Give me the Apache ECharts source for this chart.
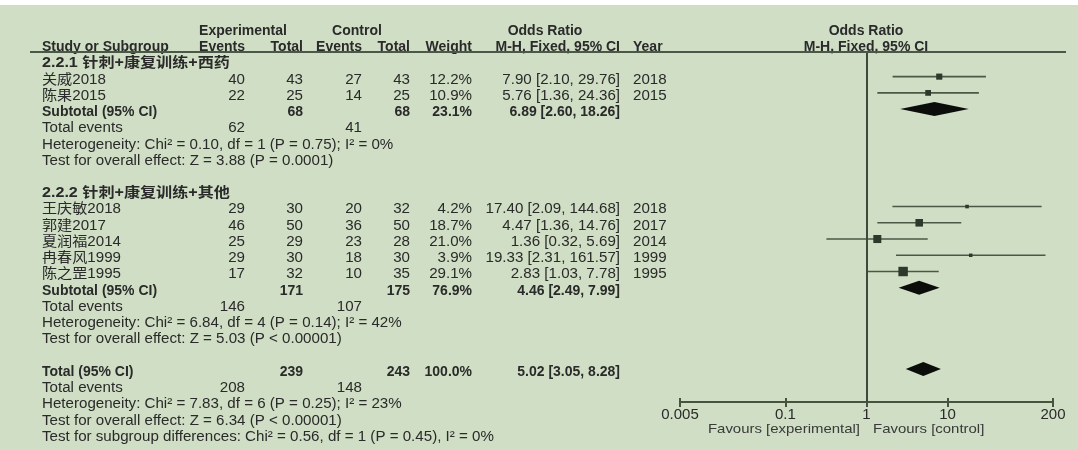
<!DOCTYPE html>
<html>
<head>
<meta charset="utf-8">
<title>Forest plot: 针刺+康复训练</title>
<script src="https://cdn.jsdelivr.net/npm/echarts@6/dist/echarts.min.js"></script>
<style>
  html, body { margin: 0; padding: 0; background: #ffffff; }
  #chart { width: 1078px; height: 450px; }
</style>
</head>
<body>
<div id="chart"></div>
<script>
// ---- Study-level data ----
const groupNames  = ['2.2.1 针刺+康复训练+西药', '2.2.2 针刺+康复训练+其他'];
const studyNames  = ['关威2018', '陈果2015', '王庆敏2018', '郭建2017', '夏润福2014', '冉春风1999', '陈之罡1995'];
const studyGroup  = [0, 0, 1, 1, 1, 1, 1];
const expEvents   = [40, 22, 29, 46, 25, 29, 17];
const expTotal    = [43, 25, 30, 50, 29, 30, 32];
const ctrlEvents  = [27, 14, 20, 36, 23, 18, 10];
const ctrlTotal   = [43, 25, 32, 50, 28, 30, 35];
const weights     = [12.2, 10.9, 4.2, 18.7, 21.0, 3.9, 29.1];
const oddsRatio   = [7.90, 5.76, 17.40, 4.47, 1.36, 19.33, 2.83];
const ciLow       = [2.10, 1.36, 2.09, 1.36, 0.32, 2.31, 1.03];
const ciHigh      = [29.76, 24.36, 144.68, 14.76, 5.69, 161.57, 7.78];
const years       = [2018, 2015, 2018, 2017, 2014, 1999, 1995];

// ---- Pooled estimates: subgroup 1, subgroup 2, overall ----
const pooledLabels    = ['Subtotal (95% CI)', 'Subtotal (95% CI)', 'Total (95% CI)'];
const pooledExpTotal  = [68, 171, 239];
const pooledCtrlTotal = [68, 175, 243];
const pooledWeight    = [23.1, 76.9, 100.0];
const pooledOR        = [6.89, 4.46, 5.02];
const pooledLow       = [2.60, 2.49, 3.05];
const pooledHigh      = [18.26, 7.99, 8.28];
const pooledExpEvents = [62, 146, 208];
const pooledCtrlEvents = [41, 107, 148];
const heterogeneity = [
  'Heterogeneity: Chi² = 0.10, df = 1 (P = 0.75); I² = 0%',
  'Heterogeneity: Chi² = 6.84, df = 4 (P = 0.14); I² = 42%',
  'Heterogeneity: Chi² = 7.83, df = 6 (P = 0.25); I² = 23%'
];
const overallEffect = [
  'Test for overall effect: Z = 3.88 (P = 0.0001)',
  'Test for overall effect: Z = 5.03 (P < 0.00001)',
  'Test for overall effect: Z = 6.34 (P < 0.00001)'
];
const subgroupTest = 'Test for subgroup differences: Chi² = 0.56, df = 1 (P = 0.45), I² = 0%';

// ---- Odds-ratio axis ----
const tickValues = [0.005, 0.1, 1, 10, 200];
const tickLabels = ['0.005', '0.1', '1', '10', '200'];
const favourLeft  = 'Favours [experimental]';
const favourRight = 'Favours [control]';

// ---- Layout ----
const W = 1078, H = 450;
const ROW_Y0 = 31, ROW_H = 16.24;          // centre of row 0 and row pitch, px
const rowMin = -ROW_Y0 / ROW_H, rowMax = (H - ROW_Y0) / ROW_H;
const PLOT_LEFT = 680, PLOT_RIGHT = 1053, PLOT_TOP = 52, PLOT_BOTTOM = 402;
const MARK_SHIFT = -0.19;                  // marks sit slightly above the text centre
const COL = { study: 42, expEv: 245, expTot: 303, ctrlEv: 362, ctrlTot: 410, weight: 472, or: 620, year: 633, plotMid: 866 };
const FONT = '"Liberation Sans", Arial, "Noto Sans CJK SC", sans-serif';
const TEXT = '#2a2a2a';
const LINE = '#46533f';
const WIDE = 1.08;                         // regular-weight text is set slightly wide

const lg = Math.log10;
const fmt2 = v => v.toFixed(2);
const ciText = (o, l, h) => `${fmt2(o)} [${fmt2(l)}, ${fmt2(h)}]`;

// ---- Build table cells and mark rows ----
const cells = [];
function cell(x, row, text, align, opt) {
  opt = opt || {};
  const bold = !!opt.bold;
  cells.push({
    x, row, text: String(text), align, bold,
    size: opt.size || 14, color: opt.color || TEXT,
    sx: opt.sx || (bold ? 1 : WIDE)
  });
}

// header
cell(243, 0, 'Experimental', 'center', { bold: true });
cell(357, 0, 'Control', 'center', { bold: true });
cell(545, 0, 'Odds Ratio', 'center', { bold: true });
cell(COL.plotMid, 0, 'Odds Ratio', 'center', { bold: true });
cell(COL.study, 1, 'Study or Subgroup', 'left', { bold: true });
cell(COL.expEv, 1, 'Events', 'right', { bold: true });
cell(COL.expTot, 1, 'Total', 'right', { bold: true });
cell(COL.ctrlEv, 1, 'Events', 'right', { bold: true });
cell(COL.ctrlTot, 1, 'Total', 'right', { bold: true });
cell(COL.weight, 1, 'Weight', 'right', { bold: true });
cell(COL.or, 1, 'M-H, Fixed, 95% CI', 'right', { bold: true });
cell(COL.year, 1, 'Year', 'left', { bold: true });
cell(COL.plotMid, 1, 'M-H, Fixed, 95% CI', 'center', { bold: true });

const studyMarks = [];
const pooledMarks = [];

function pooledBlock(k, row) {
  cell(COL.study, row, pooledLabels[k], 'left', { bold: true });
  cell(COL.expTot, row, pooledExpTotal[k], 'right', { bold: true });
  cell(COL.ctrlTot, row, pooledCtrlTotal[k], 'right', { bold: true });
  cell(COL.weight, row, pooledWeight[k].toFixed(1) + '%', 'right', { bold: true });
  cell(COL.or, row, ciText(pooledOR[k], pooledLow[k], pooledHigh[k]), 'right', { bold: true });
  pooledMarks.push([lg(pooledOR[k]), row + MARK_SHIFT, lg(pooledLow[k]), lg(pooledHigh[k])]);
  row++;
  cell(COL.study, row, 'Total events', 'left');
  cell(COL.expEv, row, pooledExpEvents[k], 'right');
  cell(COL.ctrlEv, row, pooledCtrlEvents[k], 'right');
  row++;
  cell(COL.study, row++, heterogeneity[k], 'left');
  cell(COL.study, row++, overallEffect[k], 'left');
  return row;
}

let r = 2;
groupNames.forEach((g, gi) => {
  cell(COL.study, r++, g, 'left', { bold: true, sx: 1.15 });
  studyNames.forEach((name, i) => {
    if (studyGroup[i] !== gi) return;
    cell(COL.study, r, name, 'left');
    cell(COL.expEv, r, expEvents[i], 'right');
    cell(COL.expTot, r, expTotal[i], 'right');
    cell(COL.ctrlEv, r, ctrlEvents[i], 'right');
    cell(COL.ctrlTot, r, ctrlTotal[i], 'right');
    cell(COL.weight, r, weights[i].toFixed(1) + '%', 'right');
    cell(COL.or, r, ciText(oddsRatio[i], ciLow[i], ciHigh[i]), 'right');
    cell(COL.year, r, years[i], 'left');
    studyMarks.push([lg(oddsRatio[i]), r + MARK_SHIFT, lg(ciLow[i]), lg(ciHigh[i]), weights[i]]);
    r++;
  });
  r = pooledBlock(gi, r);
  r++; // blank line between blocks
});
r = pooledBlock(2, r);
cell(COL.study, r, subgroupTest, 'left');

// axis captions under the odds-ratio scale
const capRow = (429 - ROW_Y0) / ROW_H;
cell(860, capRow, favourLeft, 'right', { size: 13, color: '#3a3a3a', sx: 1.15 });
cell(873, capRow, favourRight, 'left', { size: 13, color: '#3a3a3a', sx: 1.15 });

// ---- Chart ----
const chart = echarts.init(document.getElementById('chart'), null, { renderer: 'canvas' });
const xMin = lg(tickValues[0]), xMax = lg(tickValues[tickValues.length - 1]);
const tickLog = tickValues.map(lg);
const labelFor = v => {
  let best = 0;
  tickLog.forEach((t, i) => { if (Math.abs(t - v) < Math.abs(tickLog[best] - v)) best = i; });
  return tickLabels[best];
};
const plotRowMin = (PLOT_TOP - ROW_Y0) / ROW_H, plotRowMax = (PLOT_BOTTOM - ROW_Y0) / ROW_H;

chart.setOption({
  backgroundColor: '#ffffff',
  animation: false,
  graphic: [
    { type: 'rect', z: -10, shape: { x: 0, y: 5, width: W, height: H - 5 }, style: { fill: '#cfdec4' } },
    { type: 'line', z: 10, shape: { x1: 30, y1: PLOT_TOP, x2: 1066, y2: PLOT_TOP }, style: { stroke: '#4a5847', lineWidth: 2 } }
  ],
  grid: [
    { left: 0, top: 0, width: W, height: H },
    { left: PLOT_LEFT, top: PLOT_TOP, width: PLOT_RIGHT - PLOT_LEFT, height: PLOT_BOTTOM - PLOT_TOP }
  ],
  xAxis: [
    { gridIndex: 0, type: 'value', min: 0, max: W, show: false },
    {
      gridIndex: 1, type: 'value', position: 'bottom', min: xMin, max: xMax,
      axisLine: { show: true, onZero: false, lineStyle: { color: LINE, width: 2 } },
      axisTick: { show: true, inside: false, length: 5, customValues: tickLog, lineStyle: { color: LINE, width: 2 } },
      axisLabel: { show: true, margin: 5, customValues: tickLog, formatter: labelFor, color: '#2a2a2a', fontSize: 15, fontFamily: FONT },
      splitLine: { show: false }
    },
    {
      gridIndex: 1, type: 'value', position: 'bottom', offset: 0, min: xMin, max: xMax,
      axisLine: { show: false, onZero: false },
      axisTick: { show: true, inside: true, length: 4, customValues: tickLog, lineStyle: { color: LINE, width: 2 } },
      axisLabel: { show: false },
      splitLine: { show: false }
    }
  ],
  yAxis: [
    { gridIndex: 0, type: 'value', min: rowMin, max: rowMax, inverse: true, show: false },
    { gridIndex: 1, type: 'value', min: plotRowMin, max: plotRowMax, inverse: true, show: false }
  ],
  series: [
    {
      name: 'table', type: 'custom', xAxisIndex: 0, yAxisIndex: 0, silent: true,
      data: cells.map(c => [c.x, c.row]),
      encode: { x: 0, y: 1 },
      renderItem: function (params, api) {
        const c = cells[params.dataIndex];
        const p = api.coord([api.value(0), api.value(1)]);
        return {
          type: 'text', x: p[0], y: p[1], scaleX: c.sx,
          style: {
            text: c.text, align: c.align, verticalAlign: 'middle',
            fontSize: c.size, fontWeight: c.bold ? 'bold' : 'normal', fontFamily: FONT, fill: c.color
          }
        };
      }
    },
    {
      name: 'no effect', type: 'line', xAxisIndex: 1, yAxisIndex: 1, data: [], silent: true,
      markLine: {
        silent: true, symbol: 'none', label: { show: false },
        lineStyle: { color: '#3e493b', width: 2, type: 'solid' },
        data: [{ xAxis: 0 }]
      }
    },
    {
      name: 'studies', type: 'custom', xAxisIndex: 1, yAxisIndex: 1, silent: true,
      data: studyMarks,
      encode: { x: 0, y: 1 },
      renderItem: function (params, api) {
        const y = api.value(1);
        const lo = api.coord([api.value(2), y]);
        const hi = api.coord([api.value(3), y]);
        const mid = api.coord([api.value(0), y]);
        const s = 1.75 * Math.sqrt(api.value(4));
        return {
          type: 'group', children: [
            { type: 'line', shape: { x1: lo[0], y1: lo[1], x2: hi[0], y2: hi[1] }, style: { stroke: '#4b5846', lineWidth: 1.6 } },
            { type: 'rect', shape: { x: mid[0] - s / 2, y: mid[1] - s / 2, width: s, height: s }, style: { fill: '#2e382b' } }
          ]
        };
      }
    },
    {
      name: 'pooled', type: 'custom', xAxisIndex: 1, yAxisIndex: 1, silent: true,
      data: pooledMarks,
      encode: { x: 0, y: 1 },
      renderItem: function (params, api) {
        const y = api.value(1);
        const lo = api.coord([api.value(2), y]);
        const hi = api.coord([api.value(3), y]);
        const mid = api.coord([api.value(0), y]);
        const h = 7;
        return {
          type: 'polygon',
          shape: { points: [[lo[0], lo[1]], [mid[0], mid[1] - h], [hi[0], hi[1]], [mid[0], mid[1] + h]] },
          style: { fill: '#0b0d0a' }
        };
      }
    }
  ]
});
</script>
</body>
</html>
